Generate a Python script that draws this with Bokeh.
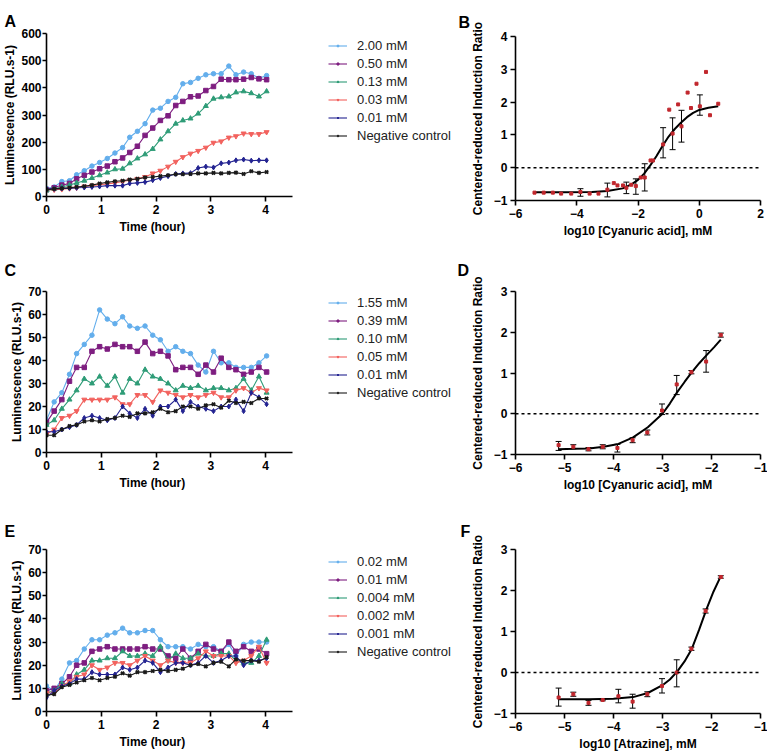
from bokeh.plotting import figure
from bokeh.layouts import row, column
from bokeh.models import (Legend, LegendItem, Title, Span, Whisker, TeeHead,
                          ColumnDataSource, FixedTicker, LinearAxis)
from bokeh.embed import file_html
from bokeh.resources import INLINE

FONT = "Liberation Sans"

# ---------------- data ----------------
time_h = [0.00, 0.14, 0.28, 0.42, 0.55, 0.69, 0.83, 0.97, 1.11, 1.25,
          1.39, 1.52, 1.66, 1.80, 1.94, 2.08, 2.22, 2.36, 2.49, 2.63,
          2.77, 2.91, 3.05, 3.19, 3.33, 3.46, 3.60, 3.74, 3.88, 4.02]

# Panel A (cyanuric acid, luminescence)
a_labels = ["2.00 mM", "0.50 mM", "0.13 mM", "0.03 mM", "0.01 mM", "Negative control"]
a_2_00 = [30, 35, 55, 58, 80, 95, 112, 125, 140, 160, 180, 218, 240, 268, 318,
          325, 350, 365, 415, 420, 435, 448, 452, 452, 480, 448, 458, 452, 435, 445]
a_0_50 = [25, 32, 42, 48, 65, 78, 90, 102, 112, 128, 142, 162, 185, 225, 252,
          280, 297, 335, 350, 367, 370, 390, 405, 432, 430, 430, 432, 438, 433, 430]
a_0_13 = [22, 28, 35, 42, 50, 58, 68, 78, 88, 100, 102, 122, 140, 155, 175,
          210, 240, 268, 280, 287, 305, 333, 360, 365, 368, 383, 387, 380, 368, 387]
a_0_03 = [25, 25, 27, 30, 32, 37, 40, 43, 46, 50, 55, 60, 65, 72, 85,
          95, 110, 128, 145, 158, 168, 180, 198, 203, 217, 222, 232, 230, 230, 237]
a_0_01 = [28, 28, 30, 30, 32, 33, 35, 37, 40, 40, 40, 48, 50, 53, 60,
          68, 75, 83, 85, 86, 105, 110, 107, 122, 125, 133, 136, 132, 133, 133]
a_neg = [25, 28, 30, 32, 35, 38, 42, 48, 52, 56, 58, 62, 65, 70, 72,
         75, 78, 82, 82, 83, 85, 85, 87, 85, 87, 88, 83, 93, 87, 90]

# Panel C (cyanuric acid, second strain)
c_labels = ["1.55 mM", "0.39 mM", "0.10 mM", "0.05 mM", "0.01 mM", "Negative control"]
c_1_55 = [14, 22, 26, 34, 43, 47, 51, 62, 58, 56, 59, 55, 54, 55, 51,
          49, 44, 46, 44, 43, 38, 35, 44, 39, 39, 37, 37, 37, 39, 42]
c_0_39 = [13, 18, 23, 31, 37, 37, 44, 46, 45, 47, 46, 46, 44, 48, 43,
          44, 42, 36, 37, 37, 34, 38, 35, 41, 37, 36, 34, 35, 37, 35]
c_0_10 = [12, 14, 19, 23, 27, 32, 30, 33, 29, 33, 26, 32, 30, 36, 33,
          32, 30, 27, 29, 28, 29, 27, 28, 28, 27, 28, 32, 27, 33, 26]
c_0_05 = [8, 10, 15, 16, 18, 23, 23, 23, 23, 24, 21, 21, 25, 25, 22,
          27, 26, 25, 24, 25, 24, 25, 26, 24, 24, 27, 28, 26, 28, 27]
c_0_01 = [9, 9, 10, 11, 12, 15, 16, 15, 14, 15, 20, 17, 15, 19, 16,
          20, 20, 23, 18, 22, 20, 19, 18, 20, 20, 23, 18, 26, 24, 21]
c_neg = [7.5, 7.5, 10, 11.5, 12, 13.5, 14, 13.5, 14.5, 15, 16, 15.5, 17, 17, 17.5,
         19, 17.5, 18, 20, 20, 19, 20.5, 21, 19.5, 22.5, 21.5, 22, 21.5, 23.5, 23.5]

# Panel E (atrazine)
e_labels = ["0.02 mM", "0.01 mM", "0.004 mM", "0.002 mM", "0.001 mM", "Negative control"]
e_0_02 = [11, 9, 14, 21, 22, 27, 31, 31, 33, 34, 36, 34, 34, 35, 35,
          31, 28, 28, 28, 27, 29, 28, 28, 26, 29, 24, 29, 30, 30, 30]
e_0_01 = [9, 10, 12, 15, 20, 21, 26, 27, 28, 27, 27, 27, 27, 28, 27,
          27, 24, 23, 27, 23, 26, 29, 27, 26, 30, 26, 28, 26, 27, 25]
e_0_004 = [8, 9, 12, 12, 16, 18, 22, 22, 23, 23, 26, 24, 24, 25, 24,
           28, 22, 25, 23, 23, 25, 24, 24, 25, 25, 22, 21, 21, 24, 31]
e_0_002 = [8, 8, 11, 13, 15, 16, 20, 18, 19, 21, 21, 20, 22, 24, 22,
           20, 22, 21, 21, 21, 23, 26, 24, 24, 24, 21, 22, 24, 28, 21]
e_0_001 = [6, 9, 11, 12, 14, 14, 17, 16, 16, 16, 19, 18, 19, 22, 21,
           17, 19, 21, 21, 20, 21, 24, 21, 22, 24, 24, 20, 22, 22, 23]
e_neg = [7, 7.5, 10.5, 11.5, 12.5, 13.5, 14.5, 13.5, 14.5, 15, 16.5, 15.5, 17, 17, 17.5,
         18, 17.5, 18, 18.5, 20, 20.5, 19.5, 21, 21.5, 19.5, 22.5, 22, 22, 21.5, 23.5]

# Panel B (dose-response, cyanuric acid)
b_pts_x = [-5.38, -5.08, -4.78, -4.51, -4.18, -3.88, -3.58, -3.29, -3.00, -2.79,
           -2.67, -2.49, -2.38, -2.22, -2.07, -1.91, -1.78, -1.59, -1.51, -1.18,
           -0.98, -0.87, -0.69, -0.58, -0.38, -0.27, -0.09, 0.02, 0.22, 0.35, 0.62]
b_pts_y = [-0.76, -0.76, -0.76, -0.79, -0.79, -0.74, -0.79, -0.79, -0.67, -0.47,
           -0.54, -0.54, -0.61, -0.52, -0.56, -0.30, -0.30, 0.22, 0.22, 0.71,
           1.77, 1.04, 1.93, 1.26, 2.29, 1.82, 2.56, 1.87, 2.92, 1.60, 1.95]
b_err_x = [-3.88, -3.00, -2.38, -2.07, -1.78, -1.18, -0.87, -0.58, 0.02]
b_err_lo = [-0.87, -0.89, -0.79, -0.81, -0.71, 0.30, 0.55, 0.78, 1.60]
b_err_hi = [-0.64, -0.47, -0.44, -0.34, 0.12, 1.22, 1.52, 1.75, 2.22]
b_fit_x = [-5.38, -4.5, -3.5, -3.0, -2.5, -2.2, -2.0, -1.8, -1.6, -1.4,
           -1.2, -1.0, -0.8, -0.6, -0.4, -0.2, 0.0, 0.3, 0.62]
b_fit_y = [-0.75, -0.75, -0.74, -0.71, -0.63, -0.50, -0.37, -0.18, 0.07, 0.35,
           0.66, 0.95, 1.18, 1.37, 1.54, 1.67, 1.76, 1.83, 1.87]

# Panel D (dose-response, cyanuric acid, second strain)
d_x = [-5.12, -4.82, -4.51, -4.22, -3.92, -3.61, -3.31, -3.01, -2.71, -2.41, -2.11, -1.81]
d_mean = [-0.77, -0.81, -0.87, -0.81, -0.84, -0.65, -0.46, 0.08, 0.72, 1.02, 1.28, 1.93]
d_lo = [-0.90, -0.86, -0.91, -0.86, -0.94, -0.71, -0.52, -0.02, 0.47, 0.98, 1.02, 1.88]
d_hi = [-0.68, -0.76, -0.83, -0.76, -0.75, -0.59, -0.40, 0.24, 0.94, 1.06, 1.55, 1.98]
d_fit_x = [-5.12, -4.8, -4.5, -4.2, -3.9, -3.6, -3.3, -3.0, -2.85, -2.7,
           -2.55, -2.4, -2.25, -2.1, -1.95, -1.81]
d_fit_y = [-0.87, -0.86, -0.85, -0.81, -0.74, -0.58, -0.33, 0.0, 0.25, 0.53,
           0.78, 1.02, 1.24, 1.44, 1.63, 1.82]

# Panel F (dose-response, atrazine)
f_x = [-5.12, -4.82, -4.51, -4.22, -3.90, -3.61, -3.31, -3.01, -2.71, -2.41, -2.12, -1.81]
f_mean = [-0.61, -0.53, -0.74, -0.67, -0.58, -0.71, -0.53, -0.33, 0.00, 0.58, 1.50, 2.33]
f_lo = [-0.82, -0.58, -0.80, -0.69, -0.74, -0.87, -0.59, -0.50, -0.35, 0.54, 1.45, 2.30]
f_hi = [-0.38, -0.48, -0.68, -0.65, -0.41, -0.53, -0.47, -0.15, 0.31, 0.62, 1.55, 2.36]
f_fit_x = [-5.12, -4.5, -4.0, -3.6, -3.3, -3.0, -2.85, -2.7, -2.55, -2.4,
           -2.25, -2.1, -1.96, -1.81]
f_fit_y = [-0.65, -0.65, -0.64, -0.60, -0.50, -0.31, -0.17, 0.02, 0.27, 0.58,
           1.05, 1.55, 1.97, 2.35]

# ---------------- styling ----------------
COLORS = ["#63AEEC", "#7E1E80", "#2E9C77", "#F2625E", "#232391", "#1A1A1A"]
MARKERS = ["circle", "square", "triangle", "inverted_triangle", "diamond", "x"]
SIZES = [4.5, 4.5, 5, 5, 5, 4.5]
RED = "#C1272D"


def style_axes(p, xlabel, ylabel):
    p.outline_line_color = None
    p.xgrid.visible = False
    p.ygrid.visible = False
    p.background_fill_color = "white"
    p.border_fill_color = "white"
    for ax in (p.xaxis[0], p.yaxis[0]):
        ax.axis_line_width = 1.6
        ax.axis_line_color = "black"
        ax.major_tick_line_width = 1.6
        ax.major_tick_line_color = "black"
        ax.major_tick_in = 0
        ax.major_tick_out = 5
        ax.minor_tick_line_color = None
        ax.major_label_text_font = FONT
        ax.major_label_text_font_size = "12px"
        ax.major_label_text_font_style = "bold"
        ax.major_label_text_color = "black"
        ax.axis_label_text_font = FONT
        ax.axis_label_text_font_size = "12px"
        ax.axis_label_text_font_style = "bold"
        ax.axis_label_text_color = "black"
        ax.major_label_standoff = 3
        ax.axis_label_standoff = 3
    if xlabel:
        p.xaxis[0].axis_label = xlabel
    p.yaxis[0].axis_label = ylabel


def panel_letter(p, letter, offset, standoff):
    p.add_layout(Title(text=letter, align="left", vertical_align="top",
                       offset=offset, standoff=standoff,
                       text_font=FONT, text_font_size="16px", text_font_style="bold",
                       text_color="black"), "above")


def time_panel(letter, height, top, bottom, y_end, y_step, labels, series, legend_y,
               letter_standoff):
    p = figure(frame_width=409, frame_height=height - top - bottom,
               min_border_left=46, min_border_right=0,
               min_border_top=top, min_border_bottom=bottom,
               x_range=(0, 7.47), y_range=(0, y_end),
               output_backend="svg", toolbar_location=None)
    style_axes(p, None, "Luminescence (RLU.s-1)")
    ya = p.yaxis[0]
    ya.major_label_standoff = 1
    ya.axis_label_standoff = 1
    ya.major_tick_out = 4
    xa = p.xaxis[0]
    xa.bounds = (0, 4.5)
    xa.ticker = FixedTicker(ticks=[0, 1, 2, 3, 4])
    ya.ticker = FixedTicker(ticks=list(range(0, y_end + 1, y_step)))
    p.add_layout(Title(text="Time (hour)", align="left", offset=73, standoff=2,
                       text_font=FONT, text_font_size="12px", text_font_style="bold",
                       text_color="black"), "below")
    items = []
    for lab, vals, col, mk, sz in zip(labels, series, COLORS, MARKERS, SIZES):
        r1 = p.line(time_h, vals, line_color=col, line_width=1.1)
        if mk == "x":
            r2 = p.scatter(time_h, vals, marker=mk, size=sz, line_color=col, line_width=2)
        else:
            r2 = p.scatter(time_h, vals, marker=mk, size=sz, fill_color=col, line_color=col)
        items.append(LegendItem(label=lab, renderers=[r1, r2]))
    leg = Legend(items=items, location=(282, legend_y), orientation="vertical",
                 label_text_font=FONT, label_text_font_size="13px", label_text_color="#222222",
                 glyph_width=19, glyph_height=5, label_height=18, spacing=0,
                 label_standoff=10, padding=0, margin=0,
                 border_line_color=None, background_fill_alpha=0)
    p.add_layout(leg, "center")
    panel_letter(p, letter, -42, letter_standoff)
    return p


def dose_panel(letter, height, top, bottom, x_rng, x_ticks, y_rng, y_ticks, xlabel,
               fit_x, fit_y, err_x, err_lo, err_hi, pts_x, pts_y, letter_offset,
               letter_standoff):
    p = figure(frame_width=245, frame_height=height - top - bottom,
               min_border_left=60, min_border_right=7,
               min_border_top=top, min_border_bottom=bottom,
               x_range=x_rng, y_range=y_rng,
               output_backend="svg", toolbar_location=None)
    style_axes(p, xlabel, "Centered-reduced Induction Ratio")
    p.yaxis[0].axis_label_standoff = 6
    p.xaxis[0].ticker = FixedTicker(ticks=x_ticks)
    p.yaxis[0].ticker = FixedTicker(ticks=y_ticks)
    # empty spacer axis (no line, no ticks, no labels) widening the left side panel
    spacer = LinearAxis(ticker=FixedTicker(ticks=[]), axis_line_color=None,
                        major_tick_line_color=None, minor_tick_line_color=None,
                        major_tick_in=0, major_tick_out=17, minor_tick_out=0,
                        major_label_text_font_size="0px")
    p.add_layout(spacer, "left")
    p.add_layout(Span(location=0, dimension="width", line_color="black",
                      line_width=1.5, line_dash="3 3"))
    src = ColumnDataSource(dict(x=err_x, lo=err_lo, hi=err_hi))
    p.add_layout(Whisker(source=src, base="x", lower="lo", upper="hi", dimension="height",
                         line_color="black", line_width=1,
                         upper_head=TeeHead(size=6, line_color="black", line_width=1),
                         lower_head=TeeHead(size=6, line_color="black", line_width=1)))
    p.line(fit_x, fit_y, line_color="black", line_width=2)
    p.scatter(pts_x, pts_y, marker="square", size=3, fill_color=RED, line_color=RED)
    panel_letter(p, letter, letter_offset, letter_standoff)
    return p


pA = time_panel("A", 240, 33, 44, 600, 100, a_labels,
                [a_2_00, a_0_50, a_0_13, a_0_03, a_0_01, a_neg], 52, 4)
pC = time_panel("C", 256, 51, 44, 70, 10, c_labels,
                [c_1_55, c_0_39, c_0_10, c_0_05, c_0_01, c_neg], 51, 22)
pE = time_panel("E", 256, 53, 41, 70, 10, e_labels,
                [e_0_02, e_0_01, e_0_004, e_0_002, e_0_001, e_neg], 51, 15)

pB = dose_panel("B", 240, 36, 40, (-6, 2), [-6, -4, -2, 0, 2], (-1, 4), [-1, 0, 1, 2, 3, 4],
                "log10 [Cyanuric acid], mM", b_fit_x, b_fit_y, b_err_x, b_err_lo, b_err_hi,
                b_pts_x, b_pts_y, -57, 7)
pD = dose_panel("D", 256, 51, 42, (-6, -1), [-6, -5, -4, -3, -2, -1], (-1, 3), [-1, 0, 1, 2, 3],
                "log10 [Cyanuric acid], mM", d_fit_x, d_fit_y, d_x, d_lo, d_hi,
                d_x, d_mean, -58, 22)
pF = dose_panel("F", 256, 53, 39, (-6, -1), [-6, -5, -4, -3, -2, -1], (-1, 3), [-1, 0, 1, 2, 3],
                "log10 [Atrazine], mM", f_fit_x, f_fit_y, f_x, f_lo, f_hi,
                f_x, f_mean, -55, 15)

layout = row(column(pA, pC, pE), column(pB, pD, pF))

open("out.html", "w").write(file_html(layout, INLINE))
